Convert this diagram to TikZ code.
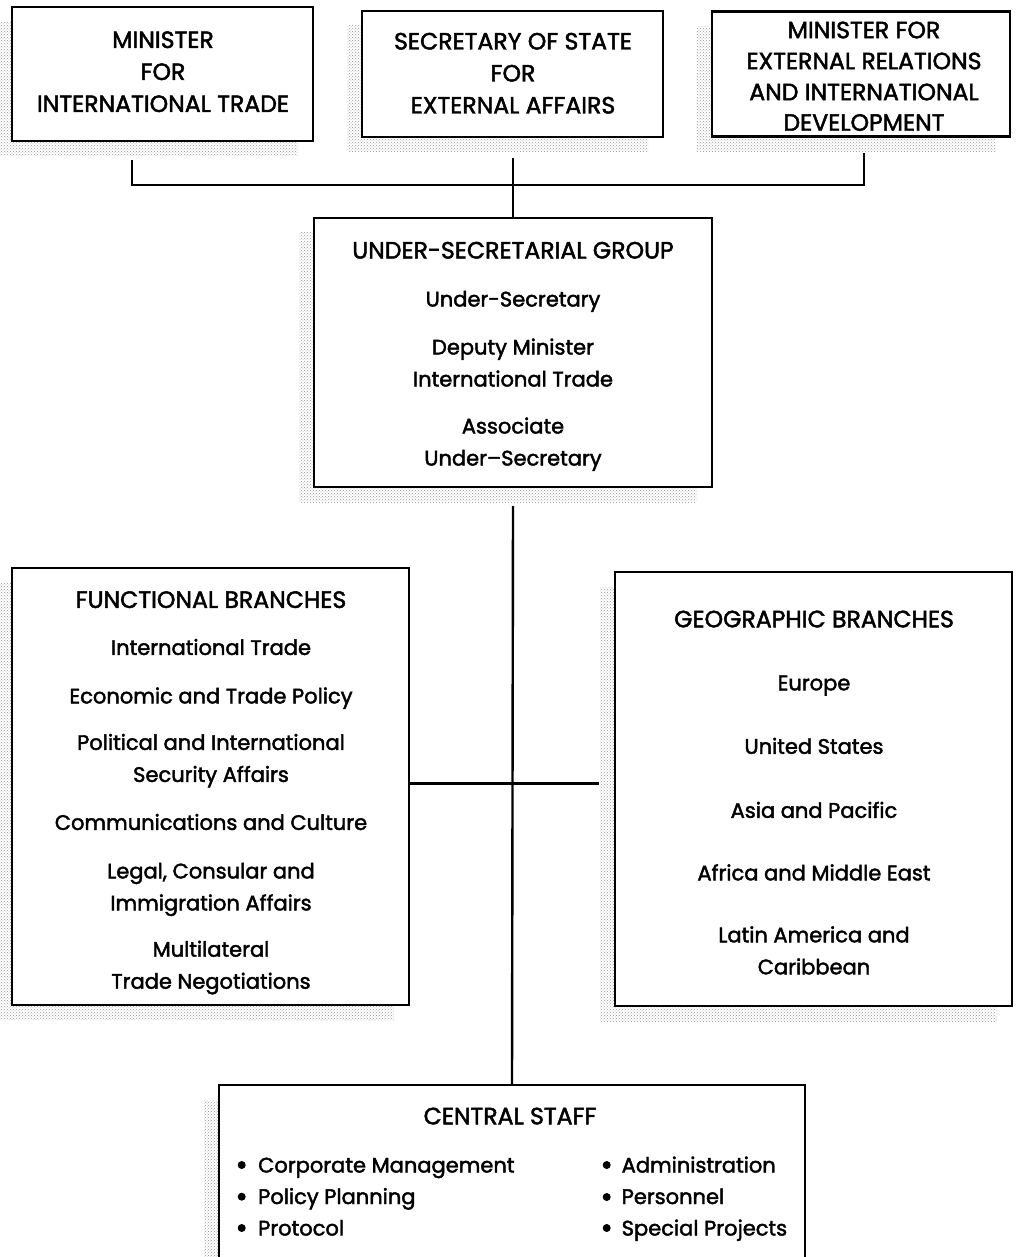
\documentclass[tikz,border=0pt]{standalone}
\usepackage{fontspec}
\setmainfont{Poppins}[FakeBold=2]
\usetikzlibrary{shadows,patterns}
\newcommand{\CAP}[1]{{\fontsize{23.6}{32}\selectfont #1}}
\newcommand{\topstrut}{\rule{0pt}{24pt}}
\newcommand{\botstrut}{\rule[-8pt]{0pt}{8pt}}
\begin{document}
\begin{tikzpicture}[x=1pt,y=-1pt,
  box/.style={draw, line width=2.4pt, fill=white, rectangle, inner sep=0pt,
    general shadow={pattern=crosshatch dots, pattern color=black!40, draw=none, shadow xshift=-15pt, shadow yshift=-15pt}},
  txt/.style={inner sep=0pt, align=center, font=\fontsize{21}{32}\selectfont},
  item/.style={inner sep=0pt, anchor=base west, font=\fontsize{21}{32}\selectfont},
  dot/.style={circle, fill=black, inner sep=0pt, minimum size=8pt},
  conn/.style={line width=2.4pt}]
\useasboundingbox (0,0) rectangle (1021,1257);

% boxes
\node[box, minimum width=301pt, minimum height=134pt] (b1) at (162.5,74) {};
\node[box, minimum width=301pt, minimum height=126pt] (b2) at (512.5,74) {};
\node[box, minimum width=298pt, minimum height=125pt] (b3) at (861,74) {};
\node[box, minimum width=398pt, minimum height=269pt] (us) at (513,352.5) {};
\node[box, minimum width=397pt, minimum height=437pt] (fb) at (210.5,786.5) {};
\node[box, minimum width=397pt, minimum height=434pt] (gb) at (813.5,789) {};
\node[box, minimum width=586pt, minimum height=215pt] (cs) at (512,1192.5) {};

% texts
\node[txt] (b1t) at (163,72)
  {\topstrut\CAP{MINISTER}\\\CAP{FOR}\\\CAP{INTERNATIONAL TRADE}\botstrut};
\node[txt] (b2t) at (513,73.5)
  {\topstrut\CAP{SECRETARY OF STATE}\\\CAP{FOR}\\\CAP{EXTERNAL AFFAIRS}\botstrut};
\node[txt] (b3t) at (864,76.5)
  {\topstrut\CAP{MINISTER FOR}\\[-1pt]\CAP{EXTERNAL RELATIONS}\\[-1pt]\CAP{AND INTERNATIONAL}\\[-1.5pt]\CAP{DEVELOPMENT}\botstrut};
\node[txt] (ust) at (513,354)
  {\topstrut\CAP{UNDER-SECRETARIAL GROUP}\\[16pt]Under-Secretary\\[16pt]Deputy Minister\\International Trade\\[15pt]Associate\\Under--Secretary\botstrut};
\node[txt] (fbt) at (211,790.3)
  {\topstrut\CAP{FUNCTIONAL BRANCHES}\\[15pt]International Trade\\[16.5pt]Economic and Trade Policy\\[14.5pt]Political and International\\Security Affairs\\[16pt]Communications and Culture\\[16.5pt]Legal, Consular and\\Immigration Affairs\\[14.3pt]Multilateral\\Trade Negotiations\botstrut};
\node[txt] (gbt) at (814,792.8)
  {\topstrut\CAP{GEOGRAPHIC BRANCHES}\\[31pt]Europe\\[31.5pt]United States\\[32pt]Asia and Pacific\\[30.5pt]Africa and Middle East\\[30pt]Latin America and\\Caribbean\botstrut};
\node[txt] (cst) at (510,1116.3) {\topstrut\CAP{CENTRAL STAFF}\botstrut};

% central staff items
\node[dot] (d1) at (241.7,1165) {};
\node[dot] (d2) at (241.7,1196.7) {};
\node[dot] (d3) at (241.7,1228) {};
\node[dot] (d4) at (606.7,1165) {};
\node[dot] (d5) at (606.7,1197) {};
\node[dot] (d6) at (606.7,1228) {};
\node[item] (i1) at (258,1172.5) {Corporate Management};
\node[item] (i2) at (258,1204) {Policy Planning};
\node[item] (i3) at (258,1235.5) {Protocol};
\node[item] (i4) at (621.5,1172.5) {Administration};
\node[item] (i5) at (621.5,1204) {Personnel};
\node[item] (i6) at (621.5,1235.5) {Special Projects};

% connectors
\coordinate (t1) at (132,160);
\coordinate (t3) at (864,153);
\coordinate (j) at (512,185);
\draw[conn] (t1) |- (j) -| (t3);
\draw[conn] (us.north |- b2.south) ++(0,20) -- (us.north);
\draw[conn] ([yshift=-18pt]us.south) -- (cs.north);
\draw[conn] ([yshift=3pt]fb.east) -- ([xshift=-15pt,yshift=3pt]gb.west |- fb.east);
\end{tikzpicture}
\end{document}
